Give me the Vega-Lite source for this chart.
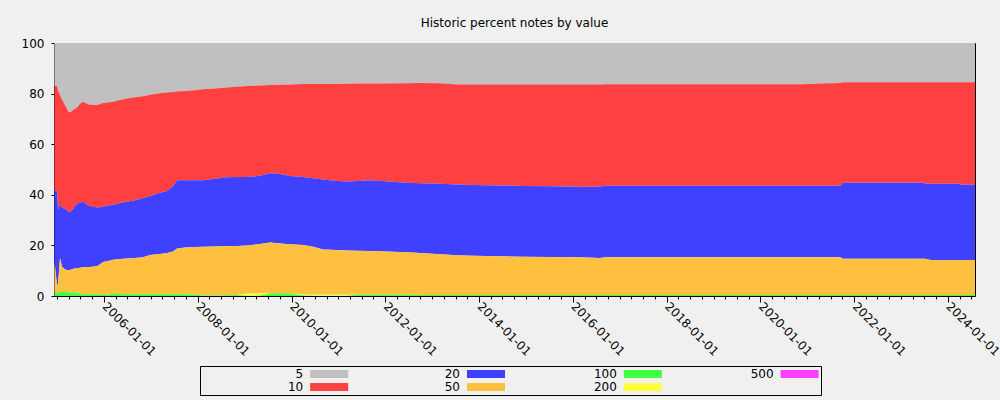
{
  "$schema": "https://vega.github.io/schema/vega-lite/v6.json",
  "width": 921,
  "height": 253,
  "autosize": {"type": "none"},
  "padding": {"left": 54, "top": 43, "right": 25, "bottom": 104},
  "background": "#f0f0f0",
  "config": {
    "view": {"stroke": null},
    "axis": {"domainColor": "black", "tickColor": "black", "labelColor": "black", "labelFont": "DejaVu Sans", "labelFontSize": 12, "grid": false, "domainWidth": 1, "tickWidth": 1, "zindex": 1}
  },
  "title": {"text": "Historic percent notes by value", "font": "DejaVu Sans", "fontSize": 12, "fontWeight": "normal", "color": "black", "anchor": "middle", "frame": "group", "baseline": "middle", "offset": 2},
  "datasets": {
    "ranks": [
      {"series": "100", "rank": 1},
      {"series": "200", "rank": 2},
      {"series": "500", "rank": 3},
      {"series": "50", "rank": 4},
      {"series": "20", "rank": 5},
      {"series": "10", "rank": 6},
      {"series": "5", "rank": 7}
    ]
  },
  "data": {"values": [
    {"date": "2004-12-10", "5": 17, "10": 41, "20": 28, "50": 13, "100": 1.0, "200": 0, "500": 0},
    {"date": "2004-12-31", "5": 17, "10": 42, "20": 37, "50": 2.8, "100": 1.2, "200": 0, "500": 0},
    {"date": "2005-01-08", "5": 19, "10": 47, "20": 29, "50": 3.5, "100": 1.5, "200": 0, "500": 0},
    {"date": "2005-01-23", "5": 20.6, "10": 42.9, "20": 21.5, "50": 13.4, "100": 1.6, "200": 0, "500": 0},
    {"date": "2005-02-08", "5": 22.5, "10": 42.5, "20": 23.4, "50": 10.0, "100": 1.6, "200": 0, "500": 0},
    {"date": "2005-03-03", "5": 24.5, "10": 41, "20": 24, "50": 8.9, "100": 1.6, "200": 0, "500": 0},
    {"date": "2005-03-27", "5": 27, "10": 39.5, "20": 23.3, "50": 8.8, "100": 1.4, "200": 0, "500": 0},
    {"date": "2005-04-11", "5": 27.5, "10": 39.5, "20": 22.7, "50": 8.9, "100": 1.4, "200": 0, "500": 0},
    {"date": "2005-05-05", "5": 26.5, "10": 39, "20": 23.7, "50": 9.4, "100": 1.4, "200": 0, "500": 0},
    {"date": "2005-06-05", "5": 25.5, "10": 38, "20": 25.5, "50": 9.7, "100": 1.3, "200": 0, "500": 0},
    {"date": "2005-06-28", "5": 24, "10": 39, "20": 25.8, "50": 10.3, "100": 0.9, "200": 0, "500": 0},
    {"date": "2005-07-21", "5": 23.2, "10": 39.5, "20": 25.9, "50": 10.7, "100": 0.7, "200": 0, "500": 0},
    {"date": "2005-08-29", "5": 24.2, "10": 40, "20": 24.3, "50": 10.8, "100": 0.7, "200": 0, "500": 0},
    {"date": "2005-10-07", "5": 24.5, "10": 40.2, "20": 23.7, "50": 10.9, "100": 0.7, "200": 0, "500": 0},
    {"date": "2005-11-15", "5": 24.4, "10": 40.6, "20": 23, "50": 11.3, "100": 0.7, "200": 0, "500": 0},
    {"date": "2005-12-24", "5": 23.7, "10": 41, "20": 21.9, "50": 12.8, "100": 0.6, "200": 0, "500": 0},
    {"date": "2006-02-01", "5": 23.5, "10": 40.7, "20": 22, "50": 13.4, "100": 0.4, "200": 0, "500": 0},
    {"date": "2006-03-12", "5": 23.2, "10": 40.8, "20": 21.7, "50": 13.2, "100": 1.1, "200": 0, "500": 0},
    {"date": "2006-05-06", "5": 22.5, "10": 40.7, "20": 22.2, "50": 13.8, "100": 0.8, "200": 0, "500": 0},
    {"date": "2006-06-29", "5": 21.9, "10": 40.8, "20": 22.5, "50": 14.1, "100": 0.7, "200": 0, "500": 0},
    {"date": "2006-08-30", "5": 21.4, "10": 40.8, "20": 22.8, "50": 14.3, "100": 0.7, "200": 0, "500": 0},
    {"date": "2006-11-01", "5": 21, "10": 40.4, "20": 23.3, "50": 14.6, "100": 0.7, "200": 0, "500": 0},
    {"date": "2006-12-25", "5": 20.5, "10": 40, "20": 23.3, "50": 15.5, "100": 0.7, "200": 0, "500": 0},
    {"date": "2007-03-13", "5": 19.9, "10": 39.3, "20": 24.2, "50": 15.9, "100": 0.7, "200": 0, "500": 0},
    {"date": "2007-05-07", "5": 19.6, "10": 38.9, "20": 24.5, "50": 16.3, "100": 0.7, "200": 0, "500": 0},
    {"date": "2007-06-23", "5": 19.4, "10": 37.1, "20": 25.9, "50": 16.9, "100": 0.7, "200": 0, "500": 0},
    {"date": "2007-07-24", "5": 19.2, "10": 35, "20": 27, "50": 18.1, "100": 0.7, "200": 0, "500": 0},
    {"date": "2007-09-24", "5": 19, "10": 35.2, "20": 26.6, "50": 18.5, "100": 0.7, "200": 0, "500": 0},
    {"date": "2007-12-11", "5": 18.7, "10": 35.5, "20": 26.4, "50": 18.8, "100": 0.6, "200": 0, "500": 0},
    {"date": "2008-02-10", "5": 18.3, "10": 35.9, "20": 26.3, "50": 19.3, "100": 0.2, "200": 0, "500": 0},
    {"date": "2008-05-14", "5": 18, "10": 35.7, "20": 26.7, "50": 19.4, "100": 0.2, "200": 0, "500": 0},
    {"date": "2008-08-15", "5": 17.6, "10": 35.5, "20": 27.1, "50": 19.5, "100": 0.3, "200": 0, "500": 0},
    {"date": "2008-11-01", "5": 17.3, "10": 35.7, "20": 27.2, "50": 19.4, "100": 0.4, "200": 0, "500": 0},
    {"date": "2009-01-26", "5": 17, "10": 36, "20": 27, "50": 19.0, "100": 0.2, "200": 0.8, "500": 0},
    {"date": "2009-04-30", "5": 16.8, "10": 35.7, "20": 26.9, "50": 19.6, "100": 0.2, "200": 0.8, "500": 0},
    {"date": "2009-07-17", "5": 16.6, "10": 34.9, "20": 27.4, "50": 20.1, "100": 1.0, "200": 0, "500": 0},
    {"date": "2009-10-03", "5": 16.5, "10": 35.3, "20": 27.4, "50": 19.8, "100": 1.0, "200": 0, "500": 0},
    {"date": "2009-12-20", "5": 16.4, "10": 36.2, "20": 26.9, "50": 19.5, "100": 1.0, "200": 0, "500": 0},
    {"date": "2010-03-31", "5": 16.2, "10": 36.8, "20": 26.8, "50": 19.6, "100": 0.3, "200": 0.3, "500": 0},
    {"date": "2010-06-17", "5": 16.2, "10": 37.3, "20": 27, "50": 19.0, "100": 0.2, "200": 0.3, "500": 0},
    {"date": "2010-09-03", "5": 16.2, "10": 37.8, "20": 27.6, "50": 17.9, "100": 0.2, "200": 0.3, "500": 0},
    {"date": "2010-12-21", "5": 16.2, "10": 38.3, "20": 27.3, "50": 17.7, "100": 0.2, "200": 0.3, "500": 0},
    {"date": "2011-03-09", "5": 16.1, "10": 38.6, "20": 27.3, "50": 17.5, "100": 0.2, "200": 0.3, "500": 0},
    {"date": "2011-05-26", "5": 16, "10": 38.5, "20": 27.6, "50": 17.4, "100": 0.5, "200": 0, "500": 0},
    {"date": "2011-09-04", "5": 16, "10": 38.2, "20": 28, "50": 17.3, "100": 0.5, "200": 0, "500": 0},
    {"date": "2011-12-30", "5": 16, "10": 38.6, "20": 27.8, "50": 17.1, "100": 0.5, "200": 0, "500": 0},
    {"date": "2012-06-18", "5": 15.9, "10": 39.3, "20": 27.5, "50": 16.8, "100": 0.5, "200": 0, "500": 0},
    {"date": "2012-09-28", "5": 15.8, "10": 39.6, "20": 27.6, "50": 16.6, "100": 0.4, "200": 0, "500": 0},
    {"date": "2013-03-02", "5": 15.9, "10": 39.7, "20": 27.9, "50": 16.1, "100": 0.4, "200": 0, "500": 0},
    {"date": "2013-07-13", "5": 16.4, "10": 39.5, "20": 28, "50": 15.7, "100": 0.4, "200": 0, "500": 0},
    {"date": "2013-11-15", "5": 16.4, "10": 39.7, "20": 28, "50": 15.5, "100": 0.4, "200": 0, "500": 0},
    {"date": "2014-06-13", "5": 16.4, "10": 39.9, "20": 28, "50": 15.3, "100": 0.4, "200": 0, "500": 0},
    {"date": "2014-12-09", "5": 16.4, "10": 40.1, "20": 28, "50": 15.1, "100": 0.4, "200": 0, "500": 0},
    {"date": "2015-07-07", "5": 16.4, "10": 40.2, "20": 28, "50": 15.0, "100": 0.4, "200": 0, "500": 0},
    {"date": "2016-02-26", "5": 16.4, "10": 40.4, "20": 27.9, "50": 14.9, "100": 0.4, "200": 0, "500": 0},
    {"date": "2016-07-30", "5": 16.4, "10": 40.4, "20": 28.2, "50": 14.6, "100": 0.4, "200": 0, "500": 0},
    {"date": "2016-09-07", "5": 16.3, "10": 40.1, "20": 28.3, "50": 14.9, "100": 0.4, "200": 0, "500": 0},
    {"date": "2017-08-24", "5": 16.3, "10": 40.1, "20": 28.3, "50": 14.9, "100": 0.4, "200": 0, "500": 0},
    {"date": "2018-09-18", "5": 16.3, "10": 40.1, "20": 28.3, "50": 14.9, "100": 0.4, "200": 0, "500": 0},
    {"date": "2019-10-13", "5": 16.3, "10": 40.1, "20": 28.3, "50": 14.9, "100": 0.4, "200": 0, "500": 0},
    {"date": "2020-11-29", "5": 16.3, "10": 40.1, "20": 28.3, "50": 14.9, "100": 0.4, "200": 0, "500": 0},
    {"date": "2021-04-11", "5": 16.0, "10": 40.4, "20": 28.3, "50": 14.9, "100": 0.4, "200": 0, "500": 0},
    {"date": "2021-09-13", "5": 15.8, "10": 40.6, "20": 28.3, "50": 14.9, "100": 0.4, "200": 0, "500": 0},
    {"date": "2021-10-07", "5": 15.5, "10": 39.7, "20": 30.1, "50": 14.3, "100": 0.4, "200": 0, "500": 0},
    {"date": "2022-07-22", "5": 15.5, "10": 39.7, "20": 30.1, "50": 14.3, "100": 0.4, "200": 0, "500": 0},
    {"date": "2023-06-21", "5": 15.5, "10": 39.7, "20": 30.1, "50": 14.3, "100": 0.4, "200": 0, "500": 0},
    {"date": "2023-07-07", "5": 15.5, "10": 40.1, "20": 29.7, "50": 14.3, "100": 0.4, "200": 0, "500": 0},
    {"date": "2023-08-22", "5": 15.5, "10": 40.1, "20": 30.2, "50": 13.8, "100": 0.4, "200": 0, "500": 0},
    {"date": "2024-03-27", "5": 15.5, "10": 40.1, "20": 30.2, "50": 13.8, "100": 0.4, "200": 0, "500": 0},
    {"date": "2024-04-12", "5": 15.5, "10": 40.5, "20": 29.8, "50": 13.8, "100": 0.4, "200": 0, "500": 0},
    {"date": "2024-07-30", "5": 15.5, "10": 40.5, "20": 29.8, "50": 13.8, "100": 0.4, "200": 0, "500": 0}
  ]},
  "transform": [
    {"fold": ["5", "10", "20", "50", "100", "200", "500"], "as": ["series", "pct"]},
    {"lookup": "series", "from": {"data": {"name": "ranks"}, "key": "series", "fields": ["rank"]}}
  ],
  "layer": [
    {
      "mark": {"type": "area", "clip": true, "interpolate": "linear"},
      "encoding": {
        "x": {
          "field": "date", "type": "temporal",
          "scale": {"type": "utc", "domain": [{"year": 2004, "month": 12, "date": 7, "utc": true}, {"year": 2024, "month": 7, "date": 30, "utc": true}], "nice": false},
          "axis": {
            "title": null,
            "tickCount": {"interval": "month", "step": 3},
            "labelExpr": "(utcmonth(datum.value) == 0 && utcyear(datum.value) % 2 == 0) ? utcFormat(datum.value, '%Y-%m-%d') : ''",
            "tickSize": {"condition": {"test": "utcmonth(datum.value) == 0 && utcyear(datum.value) % 2 == 0", "value": 6}, "value": 3},
            "labelAngle": 45, "labelAlign": "left", "labelBaseline": "middle", "labelPadding": 2,
            "labelOverlap": false, "labelBound": false, "labelFlush": false
          }
        },
        "y": {
          "field": "pct", "type": "quantitative", "stack": "zero",
          "scale": {"domain": [0, 100], "nice": false},
          "axis": {"title": null, "values": [0, 20, 40, 60, 80, 100], "tickSize": 3, "labelPadding": 7}
        },
        "color": {
          "field": "series", "type": "nominal",
          "scale": {"domain": ["5", "20", "100", "500", "10", "50", "200"], "range": ["#c0c0c0", "#4040ff", "#40ff40", "#ff40ff", "#ff4040", "#ffc040", "#ffff40"]},
          "legend": {
            "orient": "none", "legendX": 146, "legendY": 323,
            "title": null, "columns": 4, "direction": "horizontal",
            "symbolType": "M-4.75,-1H4.75V1H-4.75Z", "symbolSize": 64, "symbolStrokeWidth": 0,
            "symbolOffset": 121.2,
            "labelAlign": "right", "labelOffset": -32, "labelBaseline": "middle",
            "labelExpr": "slice('\u2007\u2007\u2007\u2007\u2007\u2007\u2007\u2007\u2007\u2007\u2007\u2007\u2007' + datum.label, -13)",
            "labelFont": "DejaVu Sans", "labelFontSize": 12, "labelColor": "black", "labelLimit": 300,
            "strokeColor": "black", "padding": 2, "columnPadding": 9.8, "rowPadding": 1, "gridAlign": "all"
          }
        },
        "order": {"field": "rank", "type": "quantitative"}
      }
    },
    {
      "mark": {"type": "rule", "opacity": 0},
      "encoding": {
        "y": {
          "aggregate": "max", "field": "pct", "type": "quantitative",
          "scale": {"domain": [0, 100], "nice": false},
          "axis": {"title": null, "orient": "right", "values": [0, 20, 40, 60, 80, 100], "labels": false, "tickSize": -4}
        }
      }
    }
  ],
  "resolve": {"axis": {"y": "independent"}}
}
